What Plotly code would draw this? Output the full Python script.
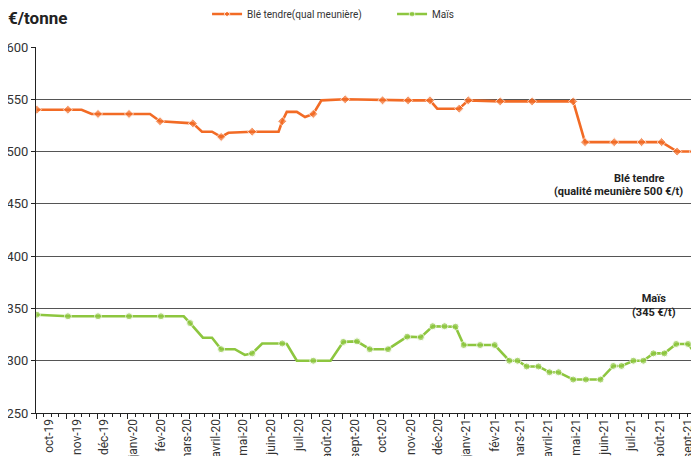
"""
Prix du blé tendre et du maïs, oct-2019 à sept-2021 (€/tonne).
"""

import plotly.graph_objects as go

ORANGE = "#F26B25"
GREEN = "#8DC63F"
FONT = "Roboto, Liberation Sans, sans-serif"

# Blé tendre (qualité meunière)
ble_dates = [
    "2019-09-18", "2019-10-22", "2019-11-06", "2019-11-17", "2019-11-24",
    "2019-12-28", "2020-01-20", "2020-01-31", "2020-03-07", "2020-03-17",
    "2020-03-28", "2020-04-07", "2020-04-15", "2020-05-11", "2020-06-09",
    "2020-06-13", "2020-06-18", "2020-06-29", "2020-07-08", "2020-07-17",
    "2020-07-26", "2020-08-21", "2020-10-01", "2020-10-29", "2020-11-22",
    "2020-11-30", "2020-12-24", "2021-01-03", "2021-02-07", "2021-03-14",
    "2021-04-28", "2021-05-11", "2021-06-12", "2021-07-12", "2021-08-03",
    "2021-08-20", "2021-09-07",
]
ble_values = [
    540, 540, 540, 536, 536, 536, 536, 529, 527, 519,
    519, 514, 518, 519, 519, 529, 538, 538, 533, 536,
    549, 550, 549, 549, 549, 541, 541, 549, 548, 548,
    548, 509, 509, 509, 509, 500, 500,
]
ble_marked = [
    1, 1, 0, 0, 1, 1, 0, 1, 1, 0,
    0, 1, 0, 1, 0, 1, 0, 0, 0, 1,
    0, 1, 1, 1, 1, 0, 1, 1, 1, 1,
    1, 1, 1, 1, 1, 1, 1,
]

# Maïs
mais_dates = [
    "2019-09-18", "2019-10-22", "2019-11-24", "2019-12-28", "2020-02-01",
    "2020-02-26", "2020-03-04", "2020-03-18", "2020-03-28", "2020-04-07",
    "2020-04-22", "2020-05-03", "2020-05-11", "2020-05-22", "2020-06-13",
    "2020-06-18", "2020-06-29", "2020-07-17", "2020-08-05", "2020-08-19",
    "2020-09-03", "2020-09-17", "2020-10-07", "2020-10-28", "2020-11-12",
    "2020-11-25", "2020-12-08", "2020-12-20", "2020-12-29", "2021-01-16",
    "2021-02-01", "2021-02-17", "2021-02-26", "2021-03-08", "2021-03-21",
    "2021-04-02", "2021-04-12", "2021-04-28", "2021-05-12", "2021-05-28",
    "2021-06-11", "2021-06-20", "2021-07-03", "2021-07-14", "2021-07-25",
    "2021-08-06", "2021-08-19", "2021-09-01", "2021-09-11",
]
mais_values = [
    344, 342.5, 342.5, 342.5, 342.5, 342.5, 336, 322, 322, 311,
    311, 305.5, 307, 316.5, 316.5, 316, 300, 300, 300, 318,
    318.5, 311, 311, 323, 322.5, 333, 333, 332.5, 315, 315,
    315, 300, 300, 294.5, 294.5, 289, 289, 282, 282, 282,
    295, 295, 300, 300, 307, 307, 316, 316, 304.5,
]
mais_marked = [
    1, 1, 1, 1, 1, 0, 1, 0, 0, 1,
    0, 0, 1, 0, 1, 0, 0, 1, 0, 1,
    1, 1, 1, 1, 1, 1, 1, 1, 1, 1,
    1, 1, 1, 1, 1, 1, 1, 1, 1, 1,
    1, 1, 1, 1, 1, 1, 1, 1, 1,
]

month_dates = [
    "2019-10-01", "2019-11-01", "2019-12-01", "2020-01-01", "2020-02-01",
    "2020-03-01", "2020-04-01", "2020-05-01", "2020-06-01", "2020-07-01",
    "2020-08-01", "2020-09-01", "2020-10-01", "2020-11-01", "2020-12-01",
    "2021-01-01", "2021-02-01", "2021-03-01", "2021-04-01", "2021-05-01",
    "2021-06-01", "2021-07-01", "2021-08-01", "2021-09-01",
]
month_labels = [
    "oct-19", "nov-19", "déc-19", "janv-20", "fév-20", "mars-20", "avril-20",
    "mai-20", "juin-20", "juil-20", "août-20", "sept-20", "oct-20", "nov-20",
    "déc-20", "janv-21", "fév-21", "mars-21", "avril-21", "mai-21", "juin-21",
    "juil-21", "août-21", "sept-21",
]

X_RANGE = ["2019-09-17", "2021-09-13"]
DAY_MS = 86400000

fig = go.Figure()
fig.add_trace(go.Scatter(
    x=ble_dates,
    y=ble_values,
    mode="lines+markers",
    name="Blé tendre(qual meunière)",
    line=dict(color=ORANGE, width=2.6),
    marker=dict(symbol="diamond", color=ORANGE, size=[7 * m for m in ble_marked]),
))
fig.add_trace(go.Scatter(
    x=mais_dates,
    y=mais_values,
    mode="lines+markers",
    name="Maïs",
    line=dict(color=GREEN, width=2.6),
    marker=dict(symbol="circle", color=GREEN, size=[7 * m for m in mais_marked]),
))
# invisible trace so the second (tick-only) x axis is drawn
fig.add_trace(go.Scatter(
    x=X_RANGE, y=[250, 250], xaxis="x2", mode="lines",
    line=dict(width=0), showlegend=False, hoverinfo="skip",
))

note_font = dict(family=FONT, size=11, color="#222")
fig.add_annotation(
    x=0.911, y=0.642, xref="paper", yref="paper", xanchor="center",
    text="<b>Blé tendre</b>", showarrow=False, font=note_font,
)
fig.add_annotation(
    x=0.878, y=0.604, xref="paper", yref="paper", xanchor="center",
    text="<b>(qualité meunière 500 €/t)</b>", showarrow=False, font=note_font,
)
fig.add_annotation(
    x=0.932, y=0.251, xref="paper", yref="paper", xanchor="center",
    text="<b>Maïs<br>(345 €/t)</b>",
    showarrow=False, align="center", font=note_font,
)

# the page body has an 8px margin, so the layout is shifted up-left by 8px
fig.update_layout(
    width=699,
    height=456,
    margin=dict(l=28, r=8, t=39, b=51, autoexpand=False),
    plot_bgcolor="white",
    paper_bgcolor="white",
    font=dict(family=FONT, color="#333"),
    title=dict(
        text="<b>€/tonne</b>",
        x=0.0, xref="container", xanchor="left",
        y=0.978, yref="container", yanchor="middle",
        font=dict(family=FONT, size=17, color="#222"),
    ),
    legend=dict(
        orientation="h",
        x=0.258, xanchor="left",
        y=1.09, yanchor="middle",
        entrywidth=140, entrywidthmode="pixels",
        font=dict(family=FONT, size=10, color="#333"),
        bgcolor="rgba(0,0,0,0)",
    ),
    xaxis=dict(
        type="date",
        range=X_RANGE,
        tickvals=month_dates,
        ticktext=month_labels,
        tickangle=-90,
        ticks="",
        showgrid=False,
        showline=True,
        linecolor="#222",
        linewidth=1.2,
        tickfont=dict(family=FONT, size=12, color="#333"),
        minor=dict(
            ticks="outside", ticklen=3, tickcolor="#222", tickwidth=1,
            dtick=8.4 * DAY_MS, tick0=X_RANGE[0], showgrid=False,
        ),
        automargin=False,
    ),
    xaxis2=dict(
        type="date",
        range=X_RANGE,
        overlaying="x",
        anchor="y",
        side="bottom",
        ticks="outside",
        ticklen=5,
        tickcolor="#222",
        dtick=33.6 * DAY_MS,
        tick0=X_RANGE[0],
        showticklabels=False,
        showgrid=False,
        showline=False,
        automargin=False,
    ),
    yaxis=dict(
        range=[250, 600],
        tickvals=[250, 300, 350, 400, 450, 500, 550, 600],
        ticks="outside",
        ticklen=4,
        tickcolor="#222",
        showline=True,
        linecolor="#222",
        linewidth=1.2,
        showgrid=True,
        gridcolor="#555",
        gridwidth=1,
        zeroline=False,
        tickfont=dict(family=FONT, size=13, color="#333"),
        automargin=False,
    ),
    hovermode="closest",
)

fig.write_html("out.html")
